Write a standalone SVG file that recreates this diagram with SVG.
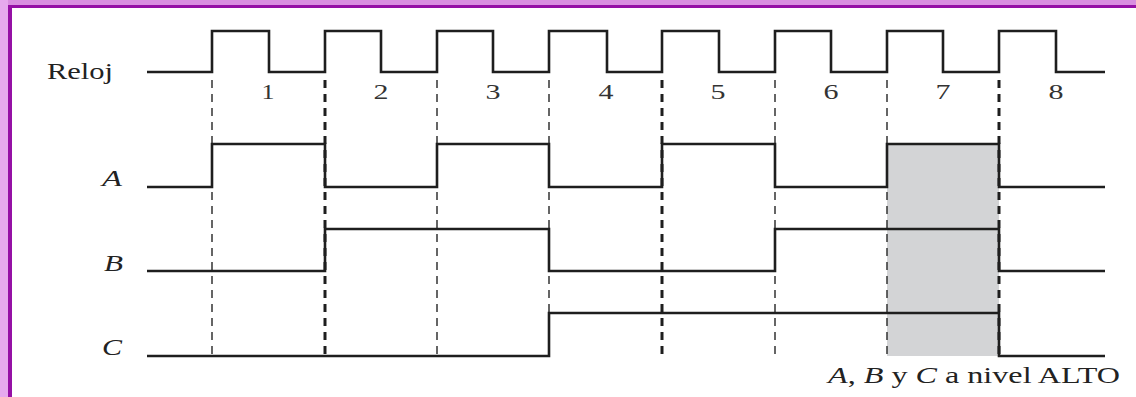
<svg xmlns="http://www.w3.org/2000/svg" width="1136" height="397" viewBox="0 0 1136 397">
<style>
.wave{fill:none;stroke:#1e1e1e;stroke-width:2.6;stroke-linejoin:miter}
.dt{fill:none;stroke:#333;stroke-width:1.5;stroke-dasharray:8 6}
.dk{fill:none;stroke:#1e1e1e;stroke-width:3;stroke-dasharray:8 6}
.t{font-family:"Liberation Serif","Times New Roman",serif;font-size:24px;fill:#222}
.n{font-family:"Liberation Serif","Times New Roman",serif;font-size:22px;fill:#333;text-anchor:middle}
.i{font-style:italic}
</style>
<rect x="0" y="0" width="1136" height="397" fill="#fff"/>
<rect x="0" y="0" width="1136" height="6" fill="#d98fe0"/>
<rect x="0" y="5" width="1136" height="3" fill="#9510a5"/>
<rect x="0" y="0" width="8" height="397" fill="#e6aaee"/>
<rect x="8" y="5" width="4" height="392" fill="#9510a5"/>
<rect id="highlight" x="887" y="144" width="112" height="212" fill="#d3d4d6"/>
<g id="connectors">
<path class="dt" d="M212 80V356M437 80V356M549 80V356M775 80V356M887 80V356"/>
<path class="dk" d="M325 80V356M662 80V356M999 80V356"/>
</g>
<g id="clock">
<text class="t" x="47" y="79" textLength="66" lengthAdjust="spacingAndGlyphs">Reloj</text>
<path class="wave" d="M147 72H212V31H269V72H325V31H381V72H437V31H493V72H549V31H607V72H662V31H719V72H775V31H831V72H887V31H943V72H999V31H1056V72H1105"/>
<text class="n" x="268" y="99" textLength="13" lengthAdjust="spacingAndGlyphs">1</text>
<text class="n" x="381" y="99" textLength="15" lengthAdjust="spacingAndGlyphs">2</text>
<text class="n" x="493" y="99" textLength="15" lengthAdjust="spacingAndGlyphs">3</text>
<text class="n" x="606" y="99" textLength="15" lengthAdjust="spacingAndGlyphs">4</text>
<text class="n" x="718" y="99" textLength="15" lengthAdjust="spacingAndGlyphs">5</text>
<text class="n" x="831" y="99" textLength="15" lengthAdjust="spacingAndGlyphs">6</text>
<text class="n" x="943" y="99" textLength="15" lengthAdjust="spacingAndGlyphs">7</text>
<text class="n" x="1056" y="99" textLength="15" lengthAdjust="spacingAndGlyphs">8</text>
</g>
<g id="signalA">
<text class="t i" x="102" y="186" textLength="20" lengthAdjust="spacingAndGlyphs">A</text>
<path class="wave" d="M147 187H212V144H325V187H437V144H549V187H662V144H775V187H887V144H999V187H1105"/>
</g>
<g id="signalB">
<text class="t i" x="104" y="271" textLength="19" lengthAdjust="spacingAndGlyphs">B</text>
<path class="wave" d="M147 271H325V229H549V271H775V229H999V271H1105"/>
</g>
<g id="signalC">
<text class="t i" x="102" y="355" textLength="20" lengthAdjust="spacingAndGlyphs">C</text>
<path class="wave" d="M147 356H549V313H999V356H1105"/>
</g>
<g id="note">
<text class="t" x="828" y="383" textLength="292" lengthAdjust="spacingAndGlyphs"><tspan class="i">A</tspan>, <tspan class="i">B</tspan> y <tspan class="i">C</tspan> a nivel ALTO</text>
</g>
</svg>
